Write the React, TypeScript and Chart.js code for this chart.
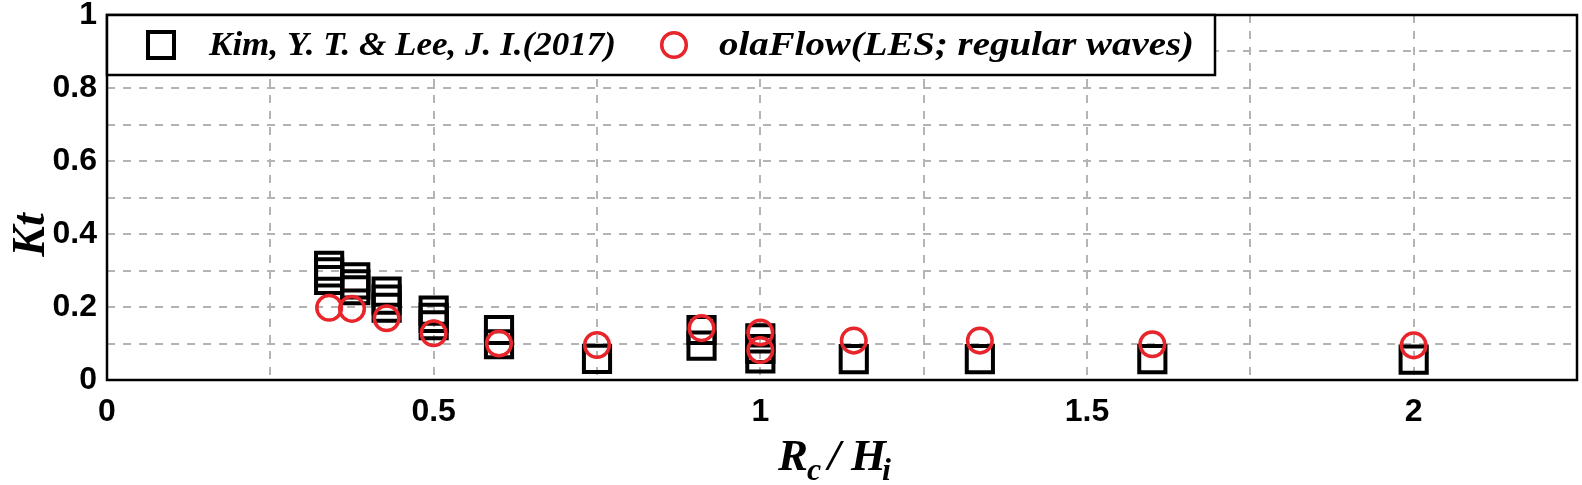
import React, { useEffect, useRef } from 'react';
import { Chart, registerables } from 'chart.js';

Chart.register(...registerables);

// Kim, Y. T. & Lee, J. I. (2017) – squares
const kimX = [0.34, 0.34, 0.34, 0.38, 0.38, 0.38, 0.428, 0.428, 0.428, 0.5, 0.5, 0.5, 0.6, 0.6, 0.75, 0.91, 0.91, 1.0, 1.0, 1.0, 1.143, 1.336, 1.6, 2.0];
const kimY = [0.313, 0.295, 0.274, 0.281, 0.262, 0.246, 0.242, 0.22, 0.198, 0.19, 0.17, 0.15, 0.137, 0.098, 0.058, 0.137, 0.094, 0.114, 0.085, 0.059, 0.057, 0.057, 0.057, 0.056];

// olaFlow (LES; regular waves) – circles
const olaX = [0.34, 0.375, 0.428, 0.5, 0.6, 0.75, 0.91, 1.0, 1.0, 1.143, 1.336, 1.6, 2.0];
const olaY = [0.198, 0.195, 0.169, 0.128, 0.1, 0.096, 0.142, 0.13, 0.082, 0.108, 0.108, 0.098, 0.095];

const xTickLabels = ['0', '0.5', '1', '1.5', '2'];
const yTickLabels = ['0', '0.2', '0.4', '0.6', '0.8', '1'];
const legendLabels = ['Kim, Y. T. & Lee, J. I.(2017)', 'olaFlow(LES; regular waves)'];

const RED = '#e8252b';

function fitText(ctx: CanvasRenderingContext2D, text: string, x: number, y: number, width: number) {
  const w = ctx.measureText(text).width;
  ctx.save();
  ctx.translate(x, y);
  ctx.scale(width / w, 1);
  ctx.fillText(text, 0, 0);
  ctx.restore();
}

const decorPlugin = {
  id: 'decor',
  afterDraw(chart: any) {
    const { ctx, chartArea } = chart;
    const { left, top, right, bottom } = chartArea;
    ctx.save();
    // frame
    ctx.strokeStyle = '#000';
    ctx.lineWidth = 2.5;
    ctx.setLineDash([]);
    ctx.strokeRect(left, top, right - left, bottom - top);

    // legend box
    const lw = 1108, lh = 60;
    ctx.fillStyle = '#fff';
    ctx.fillRect(left, top, lw, lh);
    ctx.strokeRect(left, top, lw, lh);
    const cy = top + lh / 2;
    // square marker
    ctx.lineWidth = 4;
    ctx.strokeStyle = '#000';
    ctx.strokeRect(161 - 13, cy - 13, 26, 26);
    // circle marker
    ctx.strokeStyle = RED;
    ctx.lineWidth = 3.5;
    ctx.beginPath();
    ctx.arc(674, cy, 12.3, 0, Math.PI * 2);
    ctx.stroke();
    ctx.fillStyle = '#000';
    ctx.font = 'italic bold 34px "Liberation Serif"';
    ctx.textBaseline = 'middle';
    ctx.textAlign = 'left';
    fitText(ctx, legendLabels[0], 209, cy + 1, 407);
    fitText(ctx, legendLabels[1], 719, cy + 1, 475);

    // x title R_c / H_i
    const big = 'italic bold 45px "Liberation Serif"';
    const small = 'italic bold 32px "Liberation Serif"';
    const base = 470;
    ctx.textBaseline = 'alphabetic';
    ctx.font = big; ctx.fillText('R', 778, base);
    ctx.font = small; ctx.fillText('c', 807, base + 10);
    ctx.font = big; ctx.fillText('/', 828, base);
    ctx.fillText('H', 851, base);
    ctx.font = small; ctx.fillText('i', 882, base + 10);

    // y title Kt
    ctx.save();
    ctx.translate(44, 235);
    ctx.rotate(-Math.PI / 2);
    ctx.font = 'italic bold 46px "Liberation Serif"';
    ctx.textAlign = 'center';
    ctx.textBaseline = 'alphabetic';
    ctx.fillText('Kt', 0, 0);
    ctx.restore();

    ctx.restore();
  },
};

const zeroPad = (s: any) => {
  s.paddingTop = 0;
  s.paddingBottom = 0;
  s.paddingLeft = 0;
  s.paddingRight = 0;
};

export default function App() {
  const ref = useRef<HTMLCanvasElement>(null);
  useEffect(() => {
    if (!ref.current) return;
    const kim = kimX.map((x, i) => ({ x, y: kimY[i] }));
    const ola = olaX.map((x, i) => ({ x, y: olaY[i] }));
    const gridCommon = {
      color: '#b4b4b4',
      lineWidth: 2,
      drawTicks: false,
    };
    const tickFont = { family: '"Liberation Sans"', size: 32, weight: 'bold', lineHeight: 1 };
    const chart = new Chart(ref.current, {
      type: 'scatter',
      data: {
        datasets: [
          {
            label: legendLabels[0],
            data: kim,
            pointStyle: 'rect',
            pointRadius: 18.5,
            borderWidth: 4,
            borderColor: '#000',
            backgroundColor: 'rgba(0,0,0,0)',
            order: 2,
          },
          {
            label: legendLabels[1],
            data: ola,
            pointStyle: 'circle',
            pointRadius: 12.3,
            borderWidth: 3.5,
            borderColor: RED,
            backgroundColor: 'rgba(0,0,0,0)',
            order: 1,
          },
        ],
      },
      options: {
        animation: false,
        responsive: true,
        maintainAspectRatio: false,
        events: [],
        layout: { autoPadding: false, padding: { top: 15, right: 5, left: 0, bottom: 0 } },
        plugins: { legend: { display: false }, tooltip: { enabled: false } },
        scales: {
          x: {
            type: 'linear',
            min: 0,
            max: 2.25,
            afterFit: (s: any) => { s.height = 105; zeroPad(s); },
            grid: gridCommon,
            border: { display: false, dash: [8, 8] },
            ticks: {
              stepSize: 0.25,
              padding: 16,
              color: '#000',
              font: tickFont,
              maxRotation: 0,
              autoSkip: false,
              callback: (v: any) => {
                const k = Math.round(Number(v) * 4);
                return k % 2 === 0 ? xTickLabels[k / 2] ?? '' : '';
              },
            },
          },
          y: {
            type: 'linear',
            min: 0,
            max: 1,
            afterFit: (s: any) => { s.width = 107; zeroPad(s); },
            grid: gridCommon,
            border: { display: false, dash: [8, 8] },
            ticks: {
              stepSize: 0.1,
              padding: 10,
              color: '#000',
              font: tickFont,
              autoSkip: false,
              callback: (v: any) => {
                const k = Math.round(Number(v) * 10);
                return k % 2 === 0 ? yTickLabels[k / 2] ?? '' : '';
              },
            },
          },
        },
      },
      plugins: [decorPlugin],
    } as any);
    return () => chart.destroy();
  }, []);
  return (
    <div style={{ position: 'fixed', left: 0, top: 0, width: 1582, height: 485, background: '#fff' }}>
      <canvas ref={ref} />
    </div>
  );
}
